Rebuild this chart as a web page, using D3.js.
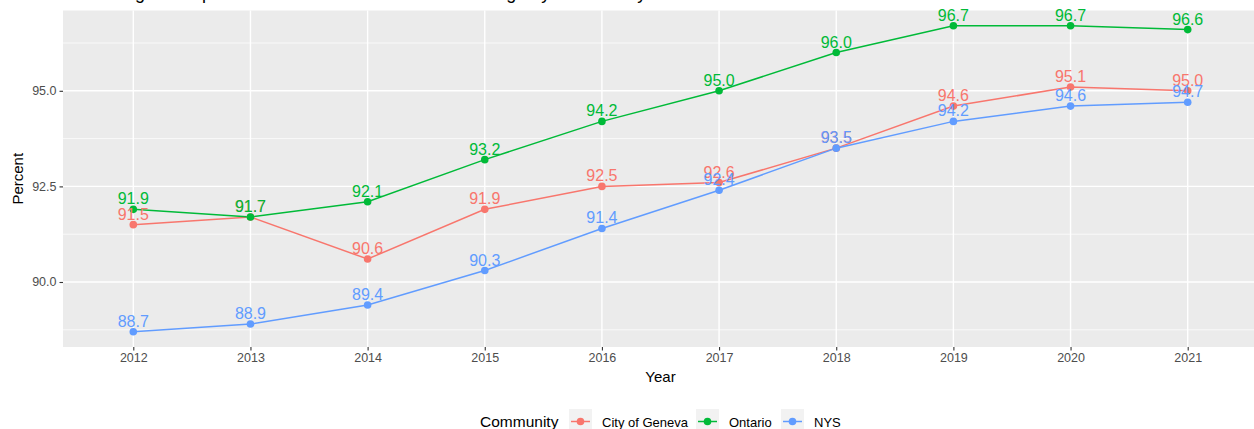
<!DOCTYPE html>
<html>
<head>
<meta charset="utf-8">
<script src="https://cdn.jsdelivr.net/npm/d3@7"></script>
<style>
  body { margin: 0; background: #fff; }
  svg { display: block; font-family: "Liberation Sans", Arial, sans-serif; }
</style>
</head>
<body>
<svg id="chart"></svg>
<script>
// Data
var years = [2012, 2013, 2014, 2015, 2016, 2017, 2018, 2019, 2020, 2021];
var communities = ["City of Geneva", "Ontario", "NYS"];
var geneva = [91.5, 91.7, 90.6, 91.9, 92.5, 92.6, 93.5, 94.6, 95.1, 95.0];
var ontario = [91.9, 91.7, 92.1, 93.2, 94.2, 95.0, 96.0, 96.7, 96.7, 96.6];
var nys = [88.7, 88.9, 89.4, 90.3, 91.4, 92.4, 93.5, 94.2, 94.6, 94.7];
var yTicks = [90.0, 92.5, 95.0];
var yMinor = [88.75, 91.25, 93.75, 96.25];

var colours = ["#F8766D", "#00BA38", "#619CFF"];

var width = 1254, height = 429;
var panel = { left: 63, right: 1258, top: 10.5, bottom: 347 };

var svg = d3.select("#chart")
    .attr("width", width)
    .attr("height", height);

// Clipped title (only descenders show)
svg.append("text")
    .attr("x", 63)
    .attr("y", -1)
    .attr("font-size", 18)
    .attr("fill", "#000")
    .text("Percentage of Population with Health Insurance Coverage by Community");

// Scales: discrete x with ggplot's 0.6 expansion
var x = d3.scalePoint()
    .domain(years)
    .range([panel.left, panel.right])
    .padding(0.6);

var y = d3.scaleLinear()
    .domain([88.3, 97.1])
    .range([panel.bottom, panel.top]);

// Panel background
svg.append("rect")
    .attr("x", panel.left)
    .attr("y", panel.top)
    .attr("width", panel.right - panel.left)
    .attr("height", panel.bottom - panel.top)
    .attr("fill", "#EBEBEB");

// Grid lines
svg.append("g").selectAll("line")
    .data(yMinor)
    .enter().append("line")
    .attr("x1", panel.left).attr("x2", panel.right)
    .attr("y1", function (d) { return y(d); })
    .attr("y2", function (d) { return y(d); })
    .attr("stroke", "#fff")
    .attr("stroke-width", 0.7);

svg.append("g").selectAll("line")
    .data(yTicks)
    .enter().append("line")
    .attr("x1", panel.left).attr("x2", panel.right)
    .attr("y1", function (d) { return y(d); })
    .attr("y2", function (d) { return y(d); })
    .attr("stroke", "#fff")
    .attr("stroke-width", 1.4);

svg.append("g").selectAll("line")
    .data(years)
    .enter().append("line")
    .attr("y1", panel.top).attr("y2", panel.bottom)
    .attr("x1", function (d) { return x(d); })
    .attr("x2", function (d) { return x(d); })
    .attr("stroke", "#fff")
    .attr("stroke-width", 1.4);

// Axes
var xAxis = svg.append("g")
    .attr("transform", "translate(0," + panel.bottom + ")")
    .call(d3.axisBottom(x).tickSize(3.5).tickPadding(3));

var yAxis = svg.append("g")
    .attr("transform", "translate(" + panel.left + ",0)")
    .call(d3.axisLeft(y).tickValues(yTicks).tickFormat(d3.format(".1f")).tickSize(3.5).tickPadding(3));

[xAxis, yAxis].forEach(function (ax) {
    ax.select(".domain").remove();
    ax.selectAll(".tick line").attr("stroke", "#333333").attr("stroke-width", 1.1);
    ax.selectAll(".tick text")
        .attr("fill", "#4D4D4D")
        .attr("font-size", 12.5)
        .attr("font-family", "Liberation Sans, Arial, sans-serif");
});

// Axis titles
svg.append("text")
    .attr("x", (panel.left + panel.right) / 2)
    .attr("y", 382)
    .attr("text-anchor", "middle")
    .attr("font-size", 15)
    .text("Year");

svg.append("text")
    .attr("transform", "translate(23," + ((panel.top + panel.bottom) / 2) + ") rotate(-90)")
    .attr("text-anchor", "middle")
    .attr("font-size", 15)
    .text("Percent");

// Series
var series = [geneva, ontario, nys].map(function (vals, i) {
    return {
        name: communities[i],
        colour: colours[i],
        values: vals.map(function (v, j) { return { year: years[j], value: v }; })
    };
});

var line = d3.line()
    .x(function (d) { return x(d.year); })
    .y(function (d) { return y(d.value); });

svg.append("g").selectAll("path")
    .data(series)
    .enter().append("path")
    .attr("d", function (d) { return line(d.values); })
    .attr("fill", "none")
    .attr("stroke", function (d) { return d.colour; })
    .attr("stroke-width", 1.5);

series.forEach(function (s) {
    svg.append("g").selectAll("circle")
        .data(s.values)
        .enter().append("circle")
        .attr("cx", function (d) { return x(d.year); })
        .attr("cy", function (d) { return y(d.value); })
        .attr("r", 3.8)
        .attr("fill", s.colour);
});

series.forEach(function (s) {
    svg.append("g").selectAll("text")
        .data(s.values)
        .enter().append("text")
        .attr("x", function (d) { return x(d.year); })
        .attr("y", function (d) { return y(d.value) - 5; })
        .attr("text-anchor", "middle")
        .attr("font-size", 16)
        .attr("fill", s.colour)
        .text(function (d) { return d.value.toFixed(1); });
});

// Legend at the bottom (clipped by the window)
var legend = svg.append("g");
legend.append("text")
    .attr("x", 480)
    .attr("y", 427)
    .attr("font-size", 15.5)
    .text("Community");

var keyX = [569, 696, 781];
series.forEach(function (s, i) {
    var g = legend.append("g").attr("transform", "translate(" + keyX[i] + ",409)");
    g.append("rect")
        .attr("width", 23)
        .attr("height", 23)
        .attr("fill", "#F2F2F2");
    g.append("line")
        .attr("x1", 2).attr("x2", 21)
        .attr("y1", 12.5).attr("y2", 12.5)
        .attr("stroke", s.colour)
        .attr("stroke-width", 1.5);
    g.append("circle")
        .attr("cx", 11.5).attr("cy", 12.5)
        .attr("r", 3.8)
        .attr("fill", s.colour);
    g.append("text")
        .attr("x", 33)
        .attr("y", 18)
        .attr("font-size", 13)
        .text(s.name);
});
</script>
</body>
</html>
